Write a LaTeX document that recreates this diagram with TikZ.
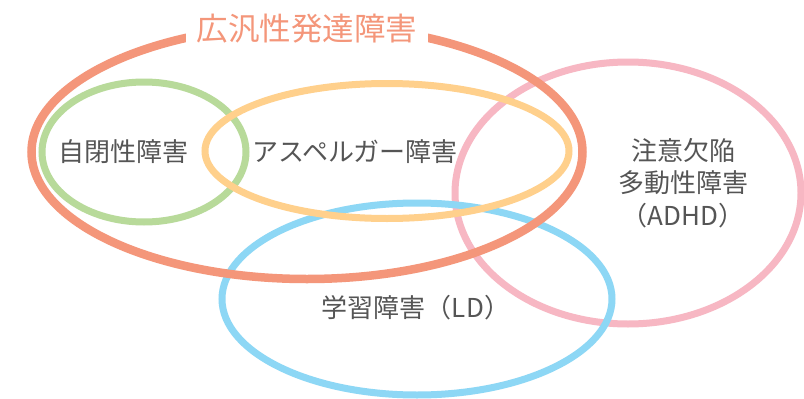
\documentclass[tikz,border=0pt]{standalone}
\usepackage{fontspec}
\usepackage{tikz}
\usetikzlibrary{positioning,shapes.geometric}
\newfontfamily\jpfont{Noto Sans CJK JP}
\definecolor{pddred}{RGB}{244,150,122}
\definecolor{asdgreen}{RGB}{184,218,154}
\definecolor{aspyellow}{RGB}{255,208,140}
\definecolor{ldblue}{RGB}{141,215,245}
\definecolor{adhdpink}{RGB}{247,183,195}
\definecolor{labelgray}{RGB}{85,85,85}

\begin{document}
\begin{tikzpicture}[x=1pt,y=-1pt,font=\jpfont]
	
	\tikzstyle{ring}=[ellipse,line width=7pt,inner sep=0pt,minimum width=2pt]
	\tikzstyle{lbl}=[text=labelgray,align=center,inner sep=0pt,font={\fontsize{26pt}{32.5pt}\selectfont\jpfont}]
	
	\useasboundingbox[fill=white] (0,0) rectangle (804,399);
	
	% the sets, back to front
	\node[ring,draw=adhdpink,minimum width=346pt,minimum height=262pt] (adhd) at (628,193) {};
	\node[ring,draw=ldblue,minimum width=390pt,minimum height=192pt] (ld) at (417,299) {};
	\node[ring,draw=pddred,line width=8.5pt,minimum width=551pt,minimum height=254pt] (pdd) at (307,152) {};
	\node[ring,draw=asdgreen,minimum width=204pt,minimum height=140pt] (asd) at (144,152) {};
	\node[ring,draw=aspyellow,minimum width=364pt,minimum height=135pt] (asp) at (387,151) {};
	
	% title cuts the outer ring
	\node[fill=white,text=pddred,inner xsep=11pt,minimum height=44pt,font={\fontsize{31.5pt}{36pt}\selectfont\jpfont}] (title) at (307,29) {広汎性発達障害};
	
	\node[lbl] (asdtext) at (123,152) {自閉性障害};
	\node[lbl] (asptext) at (355,152) {アスペルガー障害};
	\node[lbl] (adhdtext) at (683,183) {注意欠陥\\多動性障害\\（ADHD）};
	\node[lbl] (ldtext) at (416,308) {学習障害（LD）};
	
\end{tikzpicture}
\end{document}
